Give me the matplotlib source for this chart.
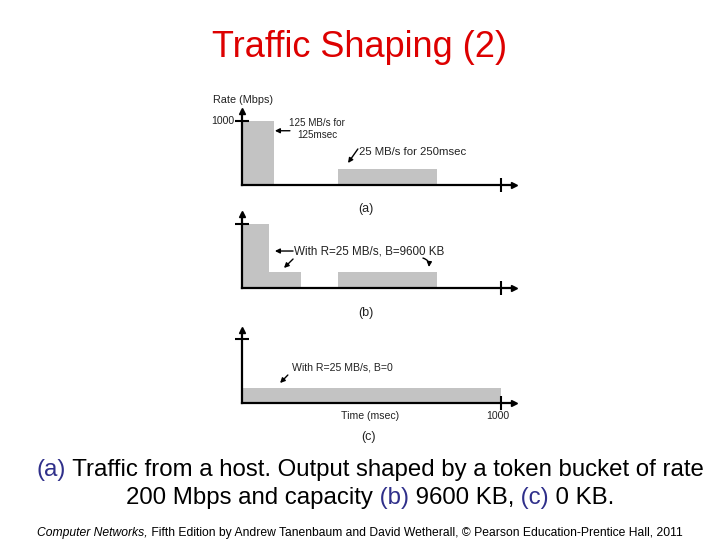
import matplotlib
matplotlib.use('Agg')
import matplotlib.pyplot as plt

# bursts per panel: start (msec), end (msec), rate (Mbps)
a_start = [0, 370]
a_end = [125, 752]
a_rate = [1000, 240]

b_start = [0, 105, 370]
b_end = [105, 228, 752]
b_rate = [1000, 240, 240]

c_start = [0]
c_end = [1000]
c_rate = [240]

title = 'Traffic Shaping (2)'
caption1 = [('(a)', '#2f2f8a'), (' Traffic from a host. Output shaped by a token bucket of rate', 'black')]
caption2 = [('200 Mbps and capacity', 'black'), (' (b)', '#2f2f8a'), (' 9600 KB,', 'black'),
            (' (c)', '#2f2f8a'), (' 0 KB.', 'black')]
footer_it = 'Computer Networks,'
footer_rest = ' Fifth Edition by Andrew Tanenbaum and David Wetherall, \u00a9 Pearson Education-Prentice Hall, 2011'

plt.rcParams['font.family'] = ['Liberation Sans', 'DejaVu Sans']

W, H = 720, 540
fig = plt.figure(figsize=(7.2, 5.4), dpi=100)

X0 = 241.7          # pixel of t=0
PX_MS = 0.2593      # pixels per msec
PX_RATE = 0.064     # pixels per Mbps
XMAX, YMAX = 1050, 1150
GRAY = '#c3c3c3'
TXT = '#222222'
FS = 7.6


def make_panel(y0, starts, ends, rates):
    rect = [X0 / W, (H - y0) / H, XMAX * PX_MS / W, YMAX * PX_RATE / H]
    ax = fig.add_axes(rect)
    widths = [e - s for s, e in zip(starts, ends)]
    ax.bar(starts, rates, width=widths, align='edge', color=GRAY, linewidth=0)
    ax.set_xlim(0, XMAX)
    ax.set_ylim(0, YMAX)
    for s in ['top', 'right']:
        ax.spines[s].set_visible(False)
    for s in ['left', 'bottom']:
        ax.spines[s].set_linewidth(1.6)
    ax.plot(1, 0, '>k', ms=5, transform=ax.get_yaxis_transform(), clip_on=False)
    ax.plot(0, 1, '^k', ms=5, transform=ax.get_xaxis_transform(), clip_on=False)
    ax.set_xticks([1000])
    ax.set_yticks([1000])
    ax.set_xticklabels([''])
    ax.set_yticklabels([''])
    ax.tick_params(direction='inout', length=10, width=1.5, labelsize=FS, labelcolor=TXT, pad=0)
    ax.set_facecolor('none')
    return ax


arrow = dict(arrowstyle='-|>', color='black', lw=1.0, mutation_scale=7, shrinkA=0, shrinkB=0)

# (a)
ax = make_panel(184.5, a_start, a_end, a_rate)
ax.set_yticklabels(['1000'])
ax.text(-110, 1320, 'Rate (Mbps)', fontsize=7.8, color=TXT, va='center', ha='left', clip_on=False)
ax.text(292, 867, '125 MB/s for\n125msec', fontsize=7.1, color=TXT, ha='center', va='center',
        multialignment='center', linespacing=1.2)
ax.annotate('', xy=(128, 840), xytext=(186, 840), arrowprops=arrow)
ax.text(453, 508, '25 MB/s for 250msec', fontsize=8.2, color=TXT, ha='left', va='center')
ax.annotate('', xy=(410, 336), xytext=(448, 555), arrowprops=arrow)
ax.text(480, -383, '(a)', fontsize=9, color=TXT, ha='center', va='center', clip_on=False)

# (b)
ax = make_panel(287.5, b_start, b_end, b_rate)
ax.text(202, 570, 'With R=25 MB/s, B=9600 KB', fontsize=8.4, color=TXT, ha='left', va='center')
ax.annotate('', xy=(128, 570), xytext=(198, 570), arrowprops=arrow)
ax.annotate('', xy=(163, 305), xytext=(198, 445), arrowprops=arrow)
ax.annotate('', xy=(722, 320), xytext=(699, 460),
            arrowprops=dict(arrow, connectionstyle='arc3,rad=-0.4'))
ax.text(480, -398, '(b)', fontsize=9, color=TXT, ha='center', va='center', clip_on=False)

# (c)
ax = make_panel(403.3, c_start, c_end, c_rate)
ax.text(194, 552, 'With R=25 MB/s, B=0', fontsize=FS, color=TXT, ha='left', va='center')
ax.annotate('', xy=(148, 317), xytext=(178, 442), arrowprops=arrow)
ax.text(495, -198, 'Time (msec)', fontsize=FS, color=TXT, ha='center', va='center', clip_on=False)
ax.text(988, -198, '1000', fontsize=FS, color=TXT, ha='center', va='center', clip_on=False)
ax.text(490, -527, '(c)', fontsize=9, color=TXT, ha='center', va='center', clip_on=False)

# title
fig.text(359.5 / W, 1 - 57 / H, title, fontsize=26, color='#dd0000', ha='center', va='baseline')

renderer = fig.canvas.get_renderer()


def text_width(s, **kw):
    t = fig.text(0, 0, s, **kw)
    w = t.get_window_extent(renderer).width
    t.remove()
    return w


def colored_line(parts, cx, base_y, size):
    full = ''.join(p for p, _ in parts)
    total = text_width(full, fontsize=size)
    left = cx - total / 2
    prefix = ''
    for s, c in parts:
        off = text_width(prefix, fontsize=size) if prefix else 0
        fig.text((left + off) / W, 1 - base_y / H, s, fontsize=size, color=c, va='baseline')
        prefix += s


colored_line(caption1, 370.5, 476, 17.3)
colored_line(caption2, 370, 504, 17.3)

# footer
fsz = 8.7
w_it = text_width(footer_it, fontsize=fsz, style='italic')
w_all = w_it + text_width(footer_rest, fontsize=fsz)
left = 360 - w_all / 2
fig.text(left / W, 1 - 536 / H, footer_it, fontsize=fsz, style='italic', va='baseline')
fig.text((left + w_it) / W, 1 - 536 / H, footer_rest, fontsize=fsz, va='baseline')

plt.savefig('out.png', dpi=100)
